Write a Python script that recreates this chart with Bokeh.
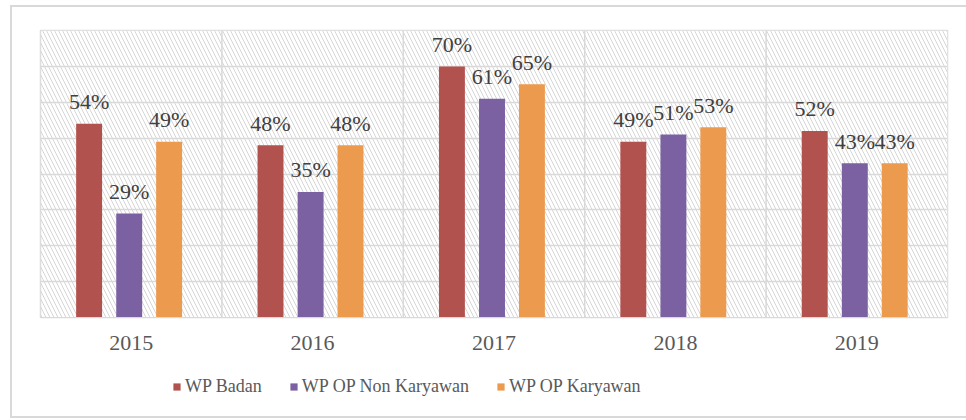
from bokeh.plotting import figure
from bokeh.layouts import column
from bokeh.models import ColumnDataSource, Legend, LegendItem, BoxAnnotation, Range1d, FactorRange
from bokeh.transform import dodge
from bokeh.core.properties import value
from bokeh.embed import file_html
from bokeh.resources import INLINE

years = ["2015", "2016", "2017", "2018", "2019"]
wp_badan = [54, 48, 70, 49, 52]
wp_op_non_karyawan = [29, 35, 61, 51, 43]
wp_op_karyawan = [49, 48, 65, 53, 43]
series_names = ["WP Badan", "WP OP Non Karyawan", "WP OP Karyawan"]
y_ticks = [0, 10, 20, 30, 40, 50, 60, 70, 80]

colors = ["#B1524E", "#7B60A2", "#EC9A4E"]
offsets = [-0.232, -0.011, 0.209]

src = ColumnDataSource(dict(
    year=years,
    b=wp_badan, n=wp_op_non_karyawan, k=wp_op_karyawan,
    bl=[f"{v}%" for v in wp_badan],
    nl=[f"{v}%" for v in wp_op_non_karyawan],
    kl=[f"{v}%" for v in wp_op_karyawan],
    y0=[y_ticks[0]] * len(years), y1=[y_ticks[-1]] * len(years),
))

p = figure(x_range=FactorRange(*years), y_range=Range1d(y_ticks[0], y_ticks[-1]),
           width=954, height=360, output_backend="svg", toolbar_location=None,
           min_border_left=28, min_border_right=19, min_border_top=23, min_border_bottom=50)

p.outline_line_color = "#d9d9d9"
p.outline_line_width = 1.5
p.background_fill_color = "white"

hatch = BoxAnnotation(fill_color="white", fill_alpha=1, line_color=None,
                      hatch_pattern="\\", hatch_color="#d6d6d6", hatch_scale=8,
                      hatch_weight=1, level="image")
p.add_layout(hatch)

# horizontal grid
p.ygrid.ticker = y_ticks
p.ygrid.grid_line_color = "#d9d9d9"
p.ygrid.grid_line_width = 1.5
p.xgrid.grid_line_color = None

# vertical category separators
p.segment(x0=dodge("year", -0.5, range=p.x_range), y0="y0",
          x1=dodge("year", -0.5, range=p.x_range), y1="y1",
          source=src, line_color="#d9d9d9", line_width=1.5, level="underlay")

for col, lab, off, c in zip(["b", "n", "k"], ["bl", "nl", "kl"], offsets, colors):
    p.vbar(x=dodge("year", off, range=p.x_range), top=col, width=0.143,
           source=src, fill_color=c, line_color=None)
    p.text(x=dodge("year", off, range=p.x_range), y=col, text=lab, source=src,
           text_align="center", text_baseline="alphabetic", y_offset=-22,
           text_font=value("Liberation Serif"), text_font_size="22px",
           text_color="#404040")

p.yaxis.visible = False
p.xaxis.axis_line_color = "#d9d9d9"
p.xaxis.major_tick_line_color = None
p.xaxis.minor_tick_line_color = None
p.xaxis.major_label_text_font = "Liberation Serif"
p.xaxis.major_label_text_font_size = "22px"
p.xaxis.major_label_text_color = "#595959"
p.xaxis.major_label_standoff = 12

# legend strip (swatch renderers sit outside the visible range; only their legend swatches show)
lg = figure(width=954, height=49, x_range=Range1d(0, 1), y_range=Range1d(0, 1),
            output_backend="svg", toolbar_location=None,
            x_axis_location=None, y_axis_location=None, min_border=0)
lg.grid.visible = False
lg.outline_line_color = None
swatch = ColumnDataSource(dict(x=[-5], top=[-5]))
items = []
for name, c in zip(series_names, colors):
    r = lg.vbar(x="x", top="top", width=0.1, source=swatch, fill_color=c, line_color=None)
    items.append(LegendItem(label=name, renderers=[r]))
legend = Legend(items=items, orientation="horizontal", location=(132, 19),
                glyph_width=9, glyph_height=9, label_standoff=4, spacing=27,
                label_text_font="Liberation Serif", label_text_font_size="18px",
                label_text_color="#595959", border_line_color=None,
                background_fill_alpha=0, margin=0, padding=4)
lg.add_layout(legend)

layout = column(p, lg, spacing=0)
layout.styles = {"margin-left": "10px", "margin-top": "5px",
                 "border-left": "2px solid #d9d9d9", "border-top": "2px solid #d9d9d9",
                 "border-bottom": "2px solid #d9d9d9"}

open("out.html", "w").write(file_html(layout, INLINE))
